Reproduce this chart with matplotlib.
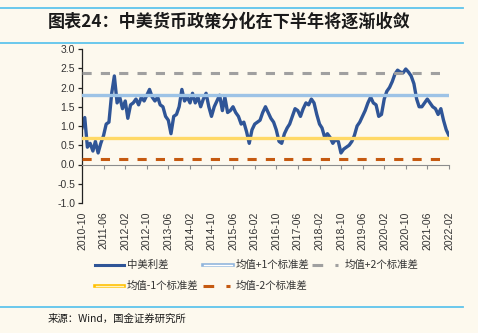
import pandas as pd
import matplotlib.pyplot as plt
from matplotlib.lines import Line2D
import matplotlib.ticker as mticker

plt.rcParams['font.family'] = ['Noto Sans CJK SC', 'DejaVu Sans']

# 数据（月度，2010-10 至 2022-02，读图估计）
dates = pd.date_range('2010-10-01', periods=137, freq='MS')
spread = [
    0.95, 1.22, 0.45, 0.55, 0.35, 0.60, 0.30, 0.55, 0.75, 1.05,
    1.10, 1.85, 2.30, 1.60, 1.75, 1.45, 1.65, 1.20, 1.55, 1.60,
    1.70, 1.55, 1.75, 1.65, 1.80, 1.95, 1.75, 1.65, 1.75, 1.55,
    1.50, 1.25, 1.15, 0.80, 1.25, 1.30, 1.50, 1.95, 1.65, 1.75,
    1.60, 1.85, 1.60, 1.75, 1.50, 1.70, 1.85, 1.50, 1.25, 1.50,
    1.65, 1.80, 1.40, 1.75, 1.35, 1.40, 1.50, 1.35, 1.25, 1.05,
    1.10, 0.85, 0.55, 0.90, 1.05, 1.10, 1.15, 1.35, 1.50, 1.35,
    1.20, 1.10, 0.90, 0.60, 0.55, 0.80, 0.95, 1.05, 1.25, 1.45,
    1.40, 1.25, 1.45, 1.60, 1.55, 1.70, 1.60, 1.30, 1.05, 0.95,
    0.70, 0.80, 0.70, 0.55, 0.65, 0.60, 0.30, 0.40, 0.45, 0.50,
    0.60, 0.75, 1.00, 1.10, 1.25, 1.40, 1.60, 1.75, 1.60, 1.55,
    1.25, 1.30, 1.70, 1.90, 2.00, 2.15, 2.35, 2.45, 2.40, 2.38,
    2.48, 2.40, 2.30, 2.10, 1.70, 1.50, 1.50, 1.60, 1.70, 1.60,
    1.50, 1.45, 1.30, 1.45, 1.15, 0.90, 0.75,
]
mean_p1 = 1.80
mean_p2 = 2.37
mean_m1 = 0.70
mean_m2 = 0.13

bg = '#fdf9ee'
c_spread = '#2f5597'
c_p1 = '#9dc3e6'
c_p2 = '#a0a0a0'
c_m1 = '#ffd966'
c_m2 = '#c55a11'
c_rule = '#5ec4ec'

W, H = 478, 333
fig = plt.figure(figsize=(W / 100, H / 100), dpi=100, facecolor=bg)
ax = fig.add_axes([82 / W, 1 - 203 / H, (449 - 82) / W, (203 - 49) / H])
ax.set_facecolor(bg)

ax.plot(dates, spread, color=c_spread, lw=2.4, zorder=2)
ax.axhline(mean_p1, color=c_p1, lw=2.4, zorder=3)
ax.axhline(mean_m1, color=c_m1, lw=2.4, zorder=3)
ax.axhline(mean_p2, color=c_p2, lw=2.2, dashes=(3, 3), dash_capstyle='butt', zorder=3)
ax.axhline(mean_m2, color=c_m2, lw=2.2, dashes=(3, 3), dash_capstyle='butt', zorder=3)

ax.set_xlim(dates[0], dates[-1])
ax.set_ylim(-1, 3)
ax.set_yticks([-1, -0.5, 0, 0.5, 1, 1.5, 2, 2.5, 3])
ax.yaxis.set_major_formatter(mticker.FormatStrFormatter('%.1f'))
ax.set_xticks(dates[::8])
ax.set_xticklabels([d.strftime('%Y-%m') for d in dates[::8]])

for s in ['top', 'right']:
    ax.spines[s].set_visible(False)
ax.spines['bottom'].set_position(('data', 0))
ax.spines['bottom'].set_color('#8c8c8c')
ax.spines['left'].set_color('#222222')
ax.spines['left'].set_linewidth(0.9)
ax.tick_params(axis='y', length=3, width=0.9, color='#222222', labelsize=7.5,
               labelcolor='#333333', pad=2)
ax.tick_params(axis='x', length=3, width=0.8, color='#8c8c8c', labelsize=7.5,
               labelcolor='#333333', pad=31, labelrotation=90)
for lab in ax.get_xticklabels() + ax.get_yticklabels():
    lab.set_fontfamily('Liberation Sans')


def fx(x):
    return x / W


def fy(y):
    return 1 - y / H


def seg(x0, x1, y, **kw):
    fig.add_artist(Line2D([fx(x0), fx(x1)], [fy(y), fy(y)], transform=fig.transFigure, **kw))


# 标题与分隔线
seg(0, 463, 8, color=c_rule, lw=1.3)
seg(0, 463, 43, color=c_rule, lw=1.3)
seg(0, 463, 306.5, color=c_rule, lw=1.3)
fig.text(fx(48), fy(22), '图表24：中美货币政策分化在下半年将逐渐收敛', fontsize=12.3,
         fontweight='bold', va='center', ha='left', color='#1a1a1a')
fig.text(fx(48), fy(319), '来源：Wind，国金证券研究所', fontsize=7.5, va='center',
         ha='left', color='#1a1a1a')

# 图例
leg_kw = dict(fontsize=7.5, va='center', ha='left', color='#333333')
y1, y2 = 265, 285.5
seg(95, 124, y1, color=c_spread, lw=2.2)
fig.text(fx(127), fy(y1), '中美利差', **leg_kw)
seg(203, 233, y1, color='#8fb4dc', lw=2.6)
seg(204, 232, y1, color='white', lw=1.0)
fig.text(fx(236), fy(y1), '均值+1个标准差', **leg_kw)
seg(312, 338, y1, color=c_p2, lw=2.2, dashes=(3.5, 4), dash_capstyle='butt')
fig.text(fx(345), fy(y1), '均值+2个标准差', **leg_kw)
seg(95, 124, y2, color='#ffc000', lw=2.6)
seg(96, 123, y2, color='#fff2c0', lw=1.0)
fig.text(fx(127), fy(y2), '均值-1个标准差', **leg_kw)
seg(203, 230, y2, color=c_m2, lw=2.2, dashes=(3.5, 4), dash_capstyle='butt')
fig.text(fx(236), fy(y2), '均值-2个标准差', **leg_kw)

fig.savefig('out.png', dpi=100, facecolor=bg)
